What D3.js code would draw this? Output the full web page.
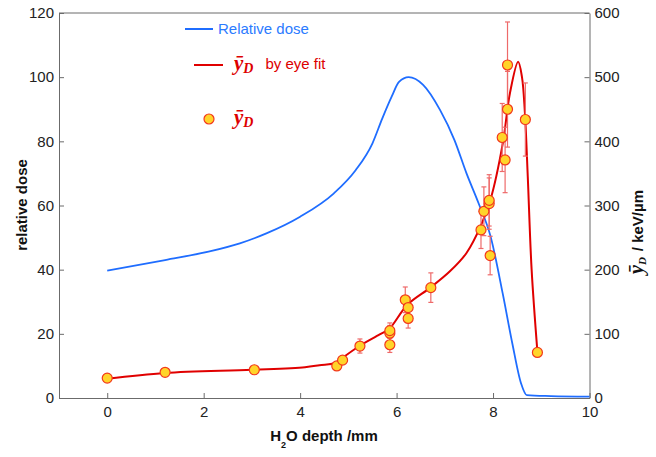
<!DOCTYPE html>
<html>
<head>
<meta charset="utf-8">
<script src="https://cdn.jsdelivr.net/npm/d3@7"></script>
<style>
  body { margin: 0; background: #fff; }
  svg { display: block; font-family: Arial, "Liberation Sans", sans-serif; }
  .axis path, .axis line { stroke: #6b6b6b; }
  .axis text { font-size: 15px; fill: #222; }
</style>
</head>
<body>
<svg id="visu" width="656" height="457"></svg>
<script>
// relative dose curve (left axis)
var doseX = [0, 1.2, 2.1, 2.75, 3.3, 4.0, 4.7, 5.15, 5.5, 5.7, 5.9, 6.05, 6.25, 6.55, 6.9, 7.2, 7.45, 7.7, 7.95, 8.2, 8.4, 8.58, 8.7, 9.2, 10];
var doseY = [39.7, 43, 45.6, 48.2, 51.3, 56.5, 63.8, 71, 79.4, 87, 94, 98.5, 100, 97.6, 89.8, 80.4, 70, 60.7, 50.3, 32.6, 17, 4.6, 0.9, 0.6, 0.4];

// y_D by eye fit (right axis)
var fitX = [0, 1.2, 3.0, 4.1, 4.4, 4.75, 4.87, 5.23, 5.65, 5.85, 6.22, 6.7, 7.1, 7.45, 7.75, 7.95, 8.2, 8.35, 8.52, 8.6, 8.66, 8.72, 8.8, 8.92];
var fitY = [30, 39, 44, 48, 51, 55, 62, 81, 99, 108, 145, 172, 197, 226, 269, 310, 396, 475, 524, 500, 445, 345, 200, 72];

// measured y_D points with error bars (right axis)
var ptX = [0, 1.2, 3.05, 4.76, 4.88, 5.24, 5.86, 5.86, 5.86, 6.18, 6.24, 6.24, 6.71, 7.75, 7.81, 7.92, 7.92, 7.94, 8.19, 8.25, 8.30, 8.30, 8.67, 8.92];
var ptY = [31, 40, 44, 50, 59, 81, 83, 101, 105, 153, 141, 124, 172, 262, 291, 303, 308, 222, 406, 371, 450, 519, 434, 71];
var ptErr = [0, 0, 0, 0, 0, 11, 12, 12, 12, 20, 15, 15, 23, 29, 38, 40, 40, 30, 53, 51, 59, 67, 57, 5];

var xTicks = [0, 2, 4, 6, 8, 10];
var leftTicks = [0, 20, 40, 60, 80, 100, 120];
var rightTicks = [0, 100, 200, 300, 400, 500, 600];

var vis = d3.select("#visu"),
    LEFT = 59,
    RIGHT = 589.5,
    TOP = 13,
    BOTTOM = 398;

var xScale = d3.scaleLinear().domain([-1, 10]).range([LEFT, RIGHT]),
    yScale = d3.scaleLinear().domain([0, 120]).range([BOTTOM, TOP]),
    y2Scale = d3.scaleLinear().domain([0, 600]).range([BOTTOM, TOP]);

// frame top
vis.append("line")
  .attr("x1", LEFT).attr("x2", RIGHT)
  .attr("y1", TOP).attr("y2", TOP)
  .attr("stroke", "#6b6b6b");

vis.append("g")
  .attr("class", "axis")
  .attr("transform", "translate(0," + BOTTOM + ")")
  .call(d3.axisBottom(xScale).tickValues(xTicks).tickSizeInner(-5).tickSizeOuter(0).tickPadding(8));

vis.append("g")
  .attr("class", "axis")
  .attr("transform", "translate(" + LEFT + ",0)")
  .call(d3.axisLeft(yScale).tickValues(leftTicks).tickSizeInner(-5).tickSizeOuter(0).tickPadding(5));

vis.append("g")
  .attr("class", "axis")
  .attr("transform", "translate(" + RIGHT + ",0)")
  .call(d3.axisRight(y2Scale).tickValues(rightTicks).tickSizeInner(-5).tickSizeOuter(0).tickPadding(5));

var idx = d3.range(doseX.length);
var doseLine = d3.line()
  .x(function(i) { return xScale(doseX[i]); })
  .y(function(i) { return yScale(doseY[i]); })
  .curve(d3.curveMonotoneX);

vis.append("path")
  .attr("d", doseLine(idx))
  .attr("fill", "none")
  .attr("stroke", "#1f6dff")
  .attr("stroke-width", 1.8);

var fitLine = d3.line()
  .x(function(i) { return xScale(fitX[i]); })
  .y(function(i) { return y2Scale(fitY[i]); })
  .curve(d3.curveCatmullRom.alpha(0.5));

vis.append("path")
  .attr("d", fitLine(d3.range(fitX.length)))
  .attr("fill", "none")
  .attr("stroke", "#e00000")
  .attr("stroke-width", 2);

// error bars
var pts = d3.range(ptX.length);
var bars = vis.append("g").attr("stroke", "#ee6a6a").attr("stroke-width", 1.2);
pts.filter(function(i) { return ptErr[i] > 0; }).forEach(function(i) {
  var cx = xScale(ptX[i]),
      y1 = y2Scale(ptY[i] + ptErr[i]),
      y2 = y2Scale(ptY[i] - ptErr[i]);
  bars.append("line").attr("x1", cx).attr("x2", cx).attr("y1", y1).attr("y2", y2);
  bars.append("line").attr("x1", cx - 2.5).attr("x2", cx + 2.5).attr("y1", y1).attr("y2", y1);
  bars.append("line").attr("x1", cx - 2.5).attr("x2", cx + 2.5).attr("y1", y2).attr("y2", y2);
});

vis.append("g").selectAll("circle")
  .data(pts)
  .enter().append("circle")
  .attr("cx", function(i) { return xScale(ptX[i]); })
  .attr("cy", function(i) { return y2Scale(ptY[i]); })
  .attr("r", 5)
  .attr("fill", "#ffd42a")
  .attr("stroke", "#f2381c")
  .attr("stroke-width", 1.2);

// legend
vis.append("line").attr("x1", 185).attr("x2", 213).attr("y1", 29).attr("y2", 29)
  .attr("stroke", "#1f6dff").attr("stroke-width", 2);
vis.append("text").attr("x", 218).attr("y", 34)
  .attr("font-size", 15).attr("fill", "#2b7bff").text("Relative dose");

vis.append("line").attr("x1", 194).attr("x2", 223).attr("y1", 65).attr("y2", 65)
  .attr("stroke", "#e00000").attr("stroke-width", 2);
var yd1 = vis.append("text").attr("x", 234).attr("y", 70).attr("fill", "#dd0000");
yd1.append("tspan").attr("font-family", "Liberation Serif, serif").attr("font-weight", "bold")
  .attr("font-style", "italic").attr("font-size", 21).text("ȳ");
yd1.append("tspan").attr("font-family", "Liberation Serif, serif").attr("font-weight", "bold")
  .attr("font-style", "italic").attr("font-size", 14).attr("dy", 3).text("D");
yd1.append("tspan").attr("font-size", 15).attr("dx", 12).attr("dy", -4).text("by eye fit");

vis.append("circle").attr("cx", 209).attr("cy", 119).attr("r", 5)
  .attr("fill", "#ffd42a").attr("stroke", "#f2381c").attr("stroke-width", 1.2);
var yd2 = vis.append("text").attr("x", 234).attr("y", 124).attr("fill", "#dd0000")
  .attr("font-family", "Liberation Serif, serif").attr("font-weight", "bold").attr("font-style", "italic");
yd2.append("tspan").attr("font-size", 21).text("ȳ");
yd2.append("tspan").attr("font-size", 14).attr("dy", 3).text("D");

// axis titles
vis.append("text")
  .attr("transform", "translate(27,205) rotate(-90)")
  .attr("text-anchor", "middle")
  .attr("font-size", 15).attr("font-weight", "bold").attr("fill", "#111")
  .text("relative dose");

var rt = vis.append("text")
  .attr("transform", "translate(643,232) rotate(-90)")
  .attr("text-anchor", "middle")
  .attr("font-weight", "bold").attr("fill", "#111");
rt.append("tspan").attr("font-family", "Liberation Serif, serif").attr("font-style", "italic")
  .attr("font-size", 20).text("ȳ");
rt.append("tspan").attr("font-family", "Liberation Serif, serif").attr("font-style", "italic")
  .attr("font-size", 11).attr("dy", 3).text("D");
rt.append("tspan").attr("font-size", 15).attr("dx", 6).attr("dy", -3).text("/ keV/µm");

var xt = vis.append("text")
  .attr("x", 324).attr("y", 441)
  .attr("text-anchor", "middle")
  .attr("font-size", 15).attr("font-weight", "bold").attr("fill", "#111");
xt.append("tspan").text("H");
xt.append("tspan").attr("font-size", 9).attr("dy", 7).text("2");
xt.append("tspan").attr("dy", -7).text("O depth /mm");
</script>
</body>
</html>
